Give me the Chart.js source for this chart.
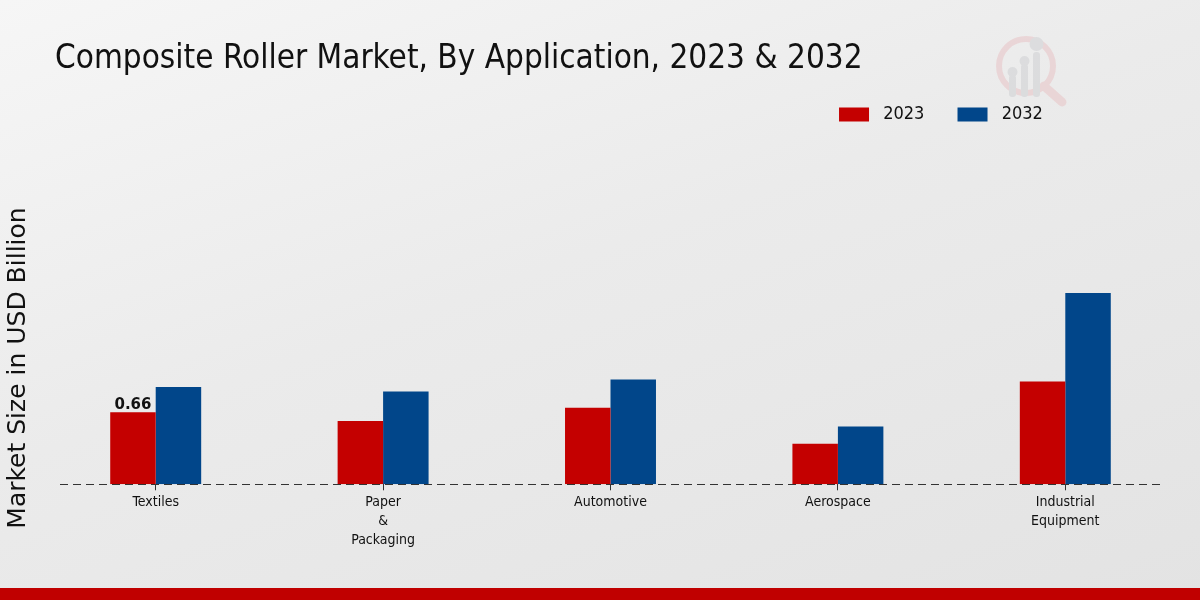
<!DOCTYPE html>
<html>
<head>
<meta charset="utf-8">
<script src="https://cdn.jsdelivr.net/npm/chart.js@4.4.1/dist/chart.umd.min.js"></script>
<style>
    html, body { margin: 0; padding: 0; }
    body {
        width: 1200px;
        height: 600px;
        overflow: hidden;
        position: relative;
        background: linear-gradient(160deg, #f6f6f6 0%, #ebebeb 45%, #e3e3e3 100%);
    }
    #wrap { position: absolute; left: 0; top: 0; width: 1200px; height: 600px; }
    #footer { position: absolute; left: 0; bottom: 0; width: 1200px; height: 12px; background: #c00000; }
    #logo { position: absolute; left: 992px; top: 30px; opacity: 0.55; }
</style>
</head>
<body>
<svg id="logo" width="80" height="80" viewBox="0 0 80 80">
    <circle cx="34" cy="36" r="27" fill="none" stroke="#e8c4c6" stroke-width="6"/>
    <line x1="52" y1="56" x2="70" y2="72" stroke="#e8c4c6" stroke-width="9" stroke-linecap="round"/>
    <rect x="17" y="45" width="7" height="22" rx="3" fill="#cfd0d3"/>
    <rect x="29" y="34" width="7" height="33" rx="3" fill="#cfd0d3"/>
    <rect x="41" y="22" width="7" height="45" rx="3" fill="#cfd0d3"/>
    <circle cx="20.5" cy="42" r="5" fill="#cfd0d3"/>
    <circle cx="32.5" cy="31" r="5" fill="#cfd0d3"/>
    <circle cx="44.5" cy="14" r="7" fill="#cfd0d3"/>
</svg>
<div id="wrap"><canvas id="chart" width="1200" height="600"></canvas></div>
<div id="footer"></div>
<script>
    const categories = [['Textiles'], ['Paper', '&', 'Packaging'], ['Automotive'], ['Aerospace'], ['Industrial', 'Equipment']];
    const seriesNames = ['2023', '2032'];
    const values2023 = [0.66, 0.58, 0.70, 0.37, 0.94];
    const values2032 = [0.89, 0.85, 0.96, 0.53, 1.75];
    const shownLabels = [{ dataset: 0, index: 0, text: '0.66' }];
    const yAxisTitle = 'Market Size in USD Billion';

    const colors = {
        red: '#c40000',
        blue: '#01468a',
        text: '#111111'
    };
    const condensed = "'DejaVu Sans Condensed', 'DejaVu Sans', sans-serif";

    const placeBoxes = {
        id: 'placeBoxes',
        afterLayout(chart) {
            // title sits at a fixed left, legend ends before the logo
            if (chart.titleBlock) {
                chart.titleBlock.left = 55;
            }
            if (chart.legend) {
                chart.legend.right = 1076;
                chart.legend.top -= 13;
                chart.legend.bottom -= 13;
                chart.legend.adjustHitBoxes();
            }
        }
    };

    const baseline = {
        id: 'baseline',
        afterDatasetsDraw(chart) {
            const ctx = chart.ctx;
            const y = Math.round(chart.scales.y.getPixelForValue(0)) + 0.5;
            ctx.save();
            ctx.strokeStyle = '#333333';
            ctx.lineWidth = 1;
            ctx.setLineDash([8, 5]);
            ctx.beginPath();
            ctx.moveTo(60, y);
            ctx.lineTo(1160, y);
            ctx.stroke();
            ctx.restore();
        }
    };

    const valueLabels = {
        id: 'valueLabels',
        afterDatasetsDraw(chart) {
            const ctx = chart.ctx;
            ctx.save();
            ctx.font = "bold 15px 'DejaVu Sans', sans-serif";
            ctx.fillStyle = colors.text;
            ctx.textAlign = 'center';
            ctx.textBaseline = 'bottom';
            shownLabels.forEach((item) => {
                const bar = chart.getDatasetMeta(item.dataset).data[item.index];
                ctx.fillText(item.text, bar.x, bar.y);
            });
            ctx.restore();
        }
    };

    const sideTitle = {
        id: 'sideTitle',
        afterDraw(chart) {
            const ctx = chart.ctx;
            ctx.save();
            ctx.translate(18, 368);
            ctx.rotate(-Math.PI / 2);
            ctx.font = "25px 'DejaVu Sans', sans-serif";
            ctx.fillStyle = colors.text;
            ctx.textAlign = 'center';
            ctx.textBaseline = 'middle';
            ctx.fillText(yAxisTitle, 0, 0);
            ctx.restore();
        }
    };

    new Chart(document.getElementById('chart').getContext('2d'), {
        type: 'bar',
        data: {
            labels: categories,
            datasets: [
                {
                    label: seriesNames[0],
                    data: values2023,
                    backgroundColor: colors.red,
                    borderWidth: 0
                },
                {
                    label: seriesNames[1],
                    data: values2032,
                    backgroundColor: colors.blue,
                    borderWidth: 0
                }
            ]
        },
        options: {
            responsive: false,
            animation: false,
            devicePixelRatio: 1,
            layout: { padding: { left: 42, right: 21, top: 0, bottom: 47 } },
            datasets: {
                bar: { categoryPercentage: 0.4, barPercentage: 1.0 }
            },
            plugins: {
                tooltip: { enabled: false },
                title: {
                    display: true,
                    text: 'Composite Roller Market, By Application, 2023 & 2032',
                    align: 'start',
                    color: colors.text,
                    font: { family: condensed, size: 33, weight: 'normal' },
                    padding: { top: 40, bottom: 11 }
                },
                legend: {
                    display: true,
                    position: 'top',
                    align: 'end',
                    labels: {
                        color: colors.text,
                        font: { family: condensed, size: 18 },
                        boxWidth: 30,
                        boxHeight: 14,
                        padding: 28,
                        generateLabels(chart) {
                            const items = Chart.defaults.plugins.legend.labels.generateLabels(chart);
                            items.forEach((item) => {
                                item.text = ' ' + item.text + ' ';
                            });
                            return items;
                        }
                    }
                }
            },
            scales: {
                x: {
                    grid: {
                        display: true,
                        offset: false,
                        drawOnChartArea: false,
                        drawTicks: true,
                        tickLength: 6,
                        color: '#333333'
                    },
                    border: { display: false },
                    ticks: {
                        color: colors.text,
                        font: { family: condensed, size: 14, lineHeight: 1.35 },
                        padding: 3,
                        maxRotation: 0
                    }
                },
                y: {
                    min: 0,
                    max: 3.09,
                    display: false
                }
            }
        },
        plugins: [placeBoxes, baseline, valueLabels, sideTitle]
    });
</script>
</body>
</html>
